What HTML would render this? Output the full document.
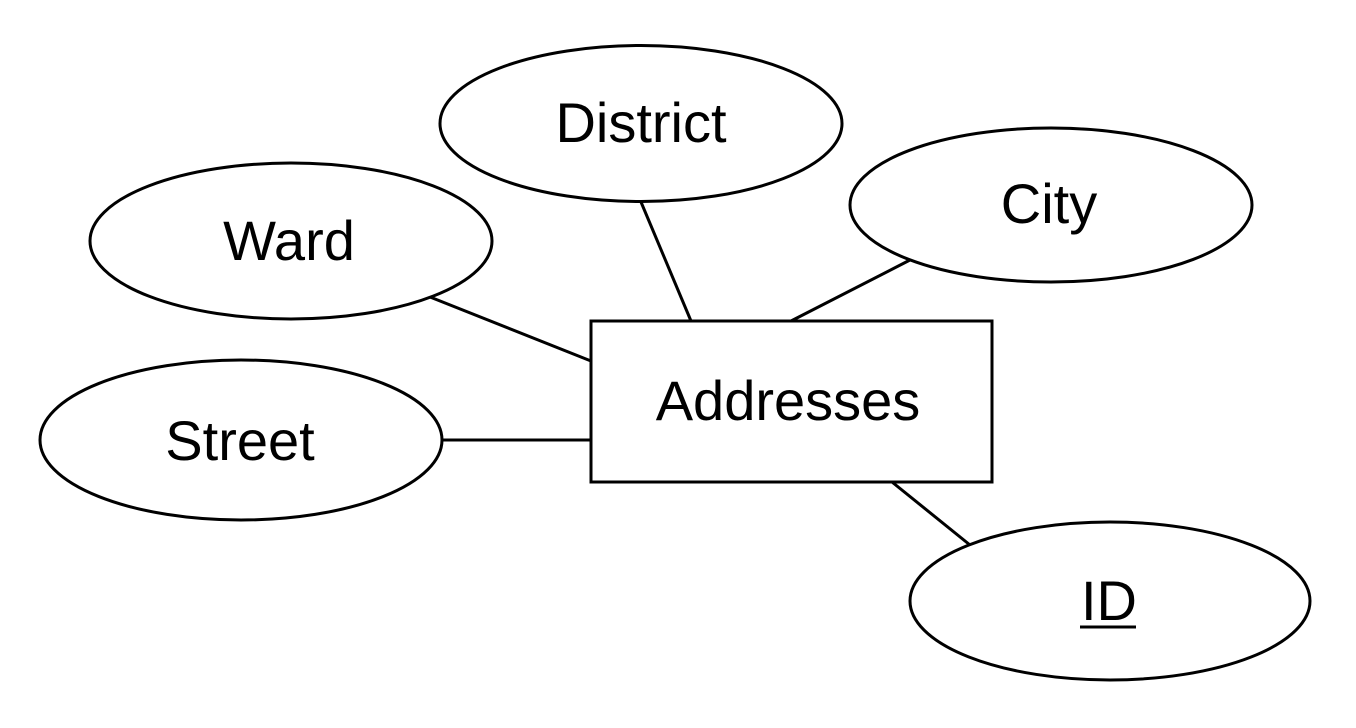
<!DOCTYPE html>
<html><head><style>html,body{margin:0;padding:0;background:#fff;}svg{display:block}</style></head>
<body>
<svg width="1356" height="728" viewBox="0 0 1356 728" xmlns="http://www.w3.org/2000/svg">
<g stroke="#000" stroke-width="3" fill="none">
<line x1="641" y1="202" x2="691" y2="321"/>
<line x1="910" y1="260" x2="791" y2="321"/>
<line x1="430" y1="297" x2="591" y2="361"/>
<line x1="442" y1="440" x2="591" y2="440"/>
<line x1="892" y1="482" x2="970" y2="545"/>
</g>
<g stroke="#000" stroke-width="3" fill="#fff">
<ellipse cx="641" cy="123.5" rx="201" ry="78"/>
<ellipse cx="1051" cy="205" rx="201" ry="77"/>
<ellipse cx="291" cy="241" rx="201" ry="78"/>
<ellipse cx="241" cy="440" rx="201" ry="80"/>
<ellipse cx="1110" cy="601" rx="200" ry="79"/>
<rect x="591" y="321" width="401" height="161"/>
</g>
<g font-family="Liberation Sans, Arial, sans-serif" font-size="56" text-anchor="middle" fill="#000">
<text x="641" y="142">District</text>
<text x="1049" y="223">City</text>
<text x="289" y="260">Ward</text>
<text x="240" y="460">Street</text>
<text x="788" y="420">Addresses</text>
<text x="1109" y="620">ID</text>
</g>
<line x1="1080" y1="627" x2="1136" y2="627" stroke="#000" stroke-width="3"/>
</svg>
</body></html>
